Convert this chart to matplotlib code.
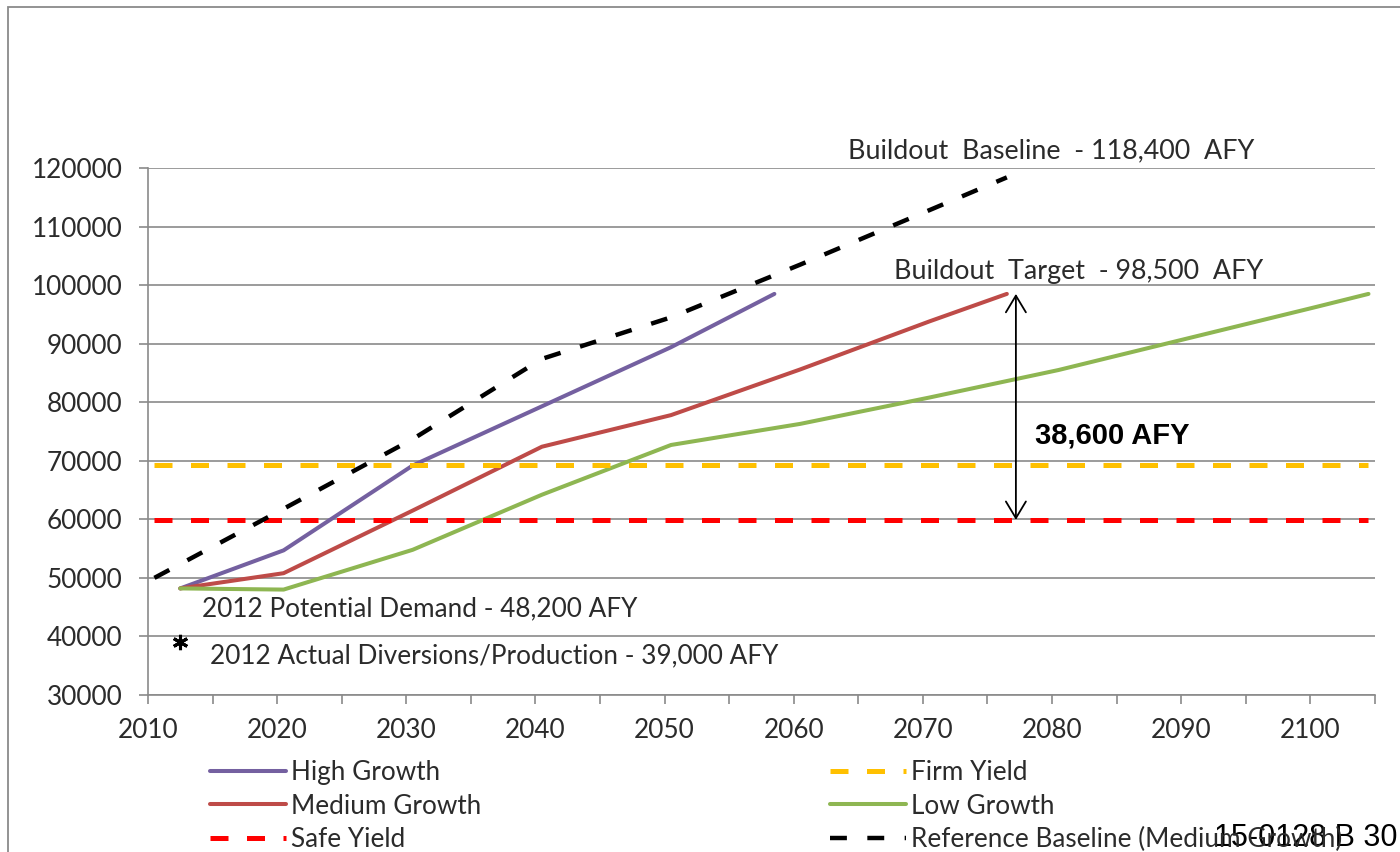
import matplotlib
matplotlib.use("Agg")
import matplotlib.pyplot as plt
from matplotlib.patches import Rectangle
from matplotlib.ticker import MultipleLocator, StrMethodFormatter

# ── Demand projections (AFY) ────────────────────────────────────────────────
high_years = [2012.5, 2020.5, 2030.5, 2040.5, 2050.5, 2058.5]
high_afy = [48200, 54700, 69200, 79300, 89400, 98500]

medium_years = [2012.5, 2020.5, 2030.5, 2040.5, 2050.5, 2060.5, 2070.5, 2076.5]
medium_afy = [48200, 50800, 61500, 72400, 77800, 85600, 93800, 98500]

low_years = [2012.5, 2020.5, 2030.5, 2040.5, 2050.5, 2060.5, 2070.5,
             2080.5, 2090.5, 2100.5, 2104.5]
low_afy = [48200, 48000, 54800, 64200, 72700, 76300, 80800,
           85500, 90900, 96300, 98500]

ref_years = [2010.5, 2020.5, 2030.5, 2040.5, 2050.5, 2060.5, 2070.5, 2076.5]
ref_afy = [50000, 61800, 73700, 87400, 94500, 103500, 112800, 118400]

# ── Supply and reference values ─────────────────────────────────────────────
yield_years = [2010.5, 2104.5]
firm_yield = 69300
safe_yield = 59900
buildout_target = 98500
buildout_baseline = 118400
actual_2012_year = 2012.5
actual_2012 = 39000
gap_year = 2077.2

y_ticks = [30000, 40000, 50000, 60000, 70000, 80000, 90000, 100000, 110000, 120000]

GRID = "#8a8a8a"
TEXT = "#2b2b2b"
FONT = "Lato"
FS = 18.8

plt.rcParams["font.family"] = [FONT, "DejaVu Sans"]

fig = plt.figure(figsize=(14, 8.52), dpi=100, facecolor="white")
ax = fig.add_axes([0.1057, 0.1843, 0.8764, 0.6185])

# outer chart border
fig.add_artist(Rectangle((0.0054, -0.05), 1.1, 1.0418, transform=fig.transFigure,
                         facecolor="none", edgecolor=GRID, linewidth=1.3))

solid = dict(linewidth=2.9, solid_capstyle="round")
h_high, = ax.plot(high_years, high_afy, color="#7460A0", label="High Growth", **solid)
h_med, = ax.plot(medium_years, medium_afy, color="#BE4B48", label="Medium Growth", **solid)
h_low, = ax.plot(low_years, low_afy, color="#8EB652", label="Low Growth", **solid)

h_firm, = ax.plot(yield_years, [firm_yield] * 2, color="#FFC000", linewidth=3.6,
                  dashes=(3.6, 3.7), label="Firm Yield")
h_safe, = ax.plot(yield_years, [safe_yield] * 2, color="#FF0000", linewidth=3.6,
                  dashes=(3.6, 3.7), label="Safe Yield")
h_ref, = ax.plot(ref_years, ref_afy, color="black", linewidth=3.2,
                 dashes=(3.8, 4.6), label="Reference Baseline (Medium Growth)")

ax.plot([actual_2012_year], [actual_2012], linestyle="none", marker=(6, 2, 0),
        markersize=11, markeredgewidth=2.2, color="black")

ax.set_xlim(2010, 2105)
ax.set_ylim(30000, 120000)
ax.set_yticks(y_ticks)
ax.yaxis.set_major_formatter(StrMethodFormatter("{x:.0f}"))
ax.xaxis.set_major_locator(MultipleLocator(10))
ax.xaxis.set_minor_locator(MultipleLocator(5))

ax.set_axisbelow(True)
ax.yaxis.grid(True, color=GRID, linewidth=1.2)
for side in ("top", "right"):
    ax.spines[side].set_visible(False)
for side in ("left", "bottom"):
    ax.spines[side].set_color(GRID)
    ax.spines[side].set_linewidth(1.2)

ax.tick_params(axis="both", which="both", direction="out", length=6.5, width=1.2,
               color=GRID, labelsize=FS, labelcolor=TEXT)
ax.tick_params(axis="x", pad=10)
ax.tick_params(axis="y", pad=12)

# annotations
ax.text(2064.2, 123000, "Buildout  Baseline  - 118,400  AFY", fontsize=19.4,
        color=TEXT, va="center", ha="left")
ax.text(2067.8, 102400, "Buildout  Target  - 98,500  AFY", fontsize=19.4,
        color=TEXT, va="center", ha="left")
ax.text(2014.2, 44700, "2012 Potential Demand - 48,200 AFY", fontsize=FS,
        color=TEXT, va="center", ha="left")
ax.text(2014.8, 36700, "2012 Actual Diversions/Production - 39,000 AFY", fontsize=FS,
        color=TEXT, va="center", ha="left")

ax.annotate("", xy=(gap_year, buildout_target), xytext=(gap_year, safe_yield),
            arrowprops=dict(arrowstyle="<->,head_length=0.6,head_width=0.36",
                            mutation_scale=20, color="black", linewidth=1.3,
                            shrinkA=0, shrinkB=0))
ax.text(2078.7, 74300, f"{buildout_target - safe_yield:,} AFY", fontsize=21,
        fontweight="bold", family="Liberation Sans", color="black",
        va="center", ha="left")

# legend in two columns under the axis
leg_kw = dict(frameon=False, fontsize=FS, handlelength=2.9, handletextpad=0.2,
              labelspacing=0.33, borderpad=0, borderaxespad=0, loc="upper left",
              labelcolor=TEXT)
fig.legend(handles=[h_high, h_med, h_safe], bbox_to_anchor=(0.150, 0.108), **leg_kw)
fig.legend(handles=[h_firm, h_low, h_ref], bbox_to_anchor=(0.593, 0.108), **leg_kw)

fig.text(0.9985, 0.016, "15-0128 B 30", fontsize=22, family="Liberation Sans",
         color="black", ha="right", va="center")

fig.savefig("out.png", dpi=100, facecolor="white")
